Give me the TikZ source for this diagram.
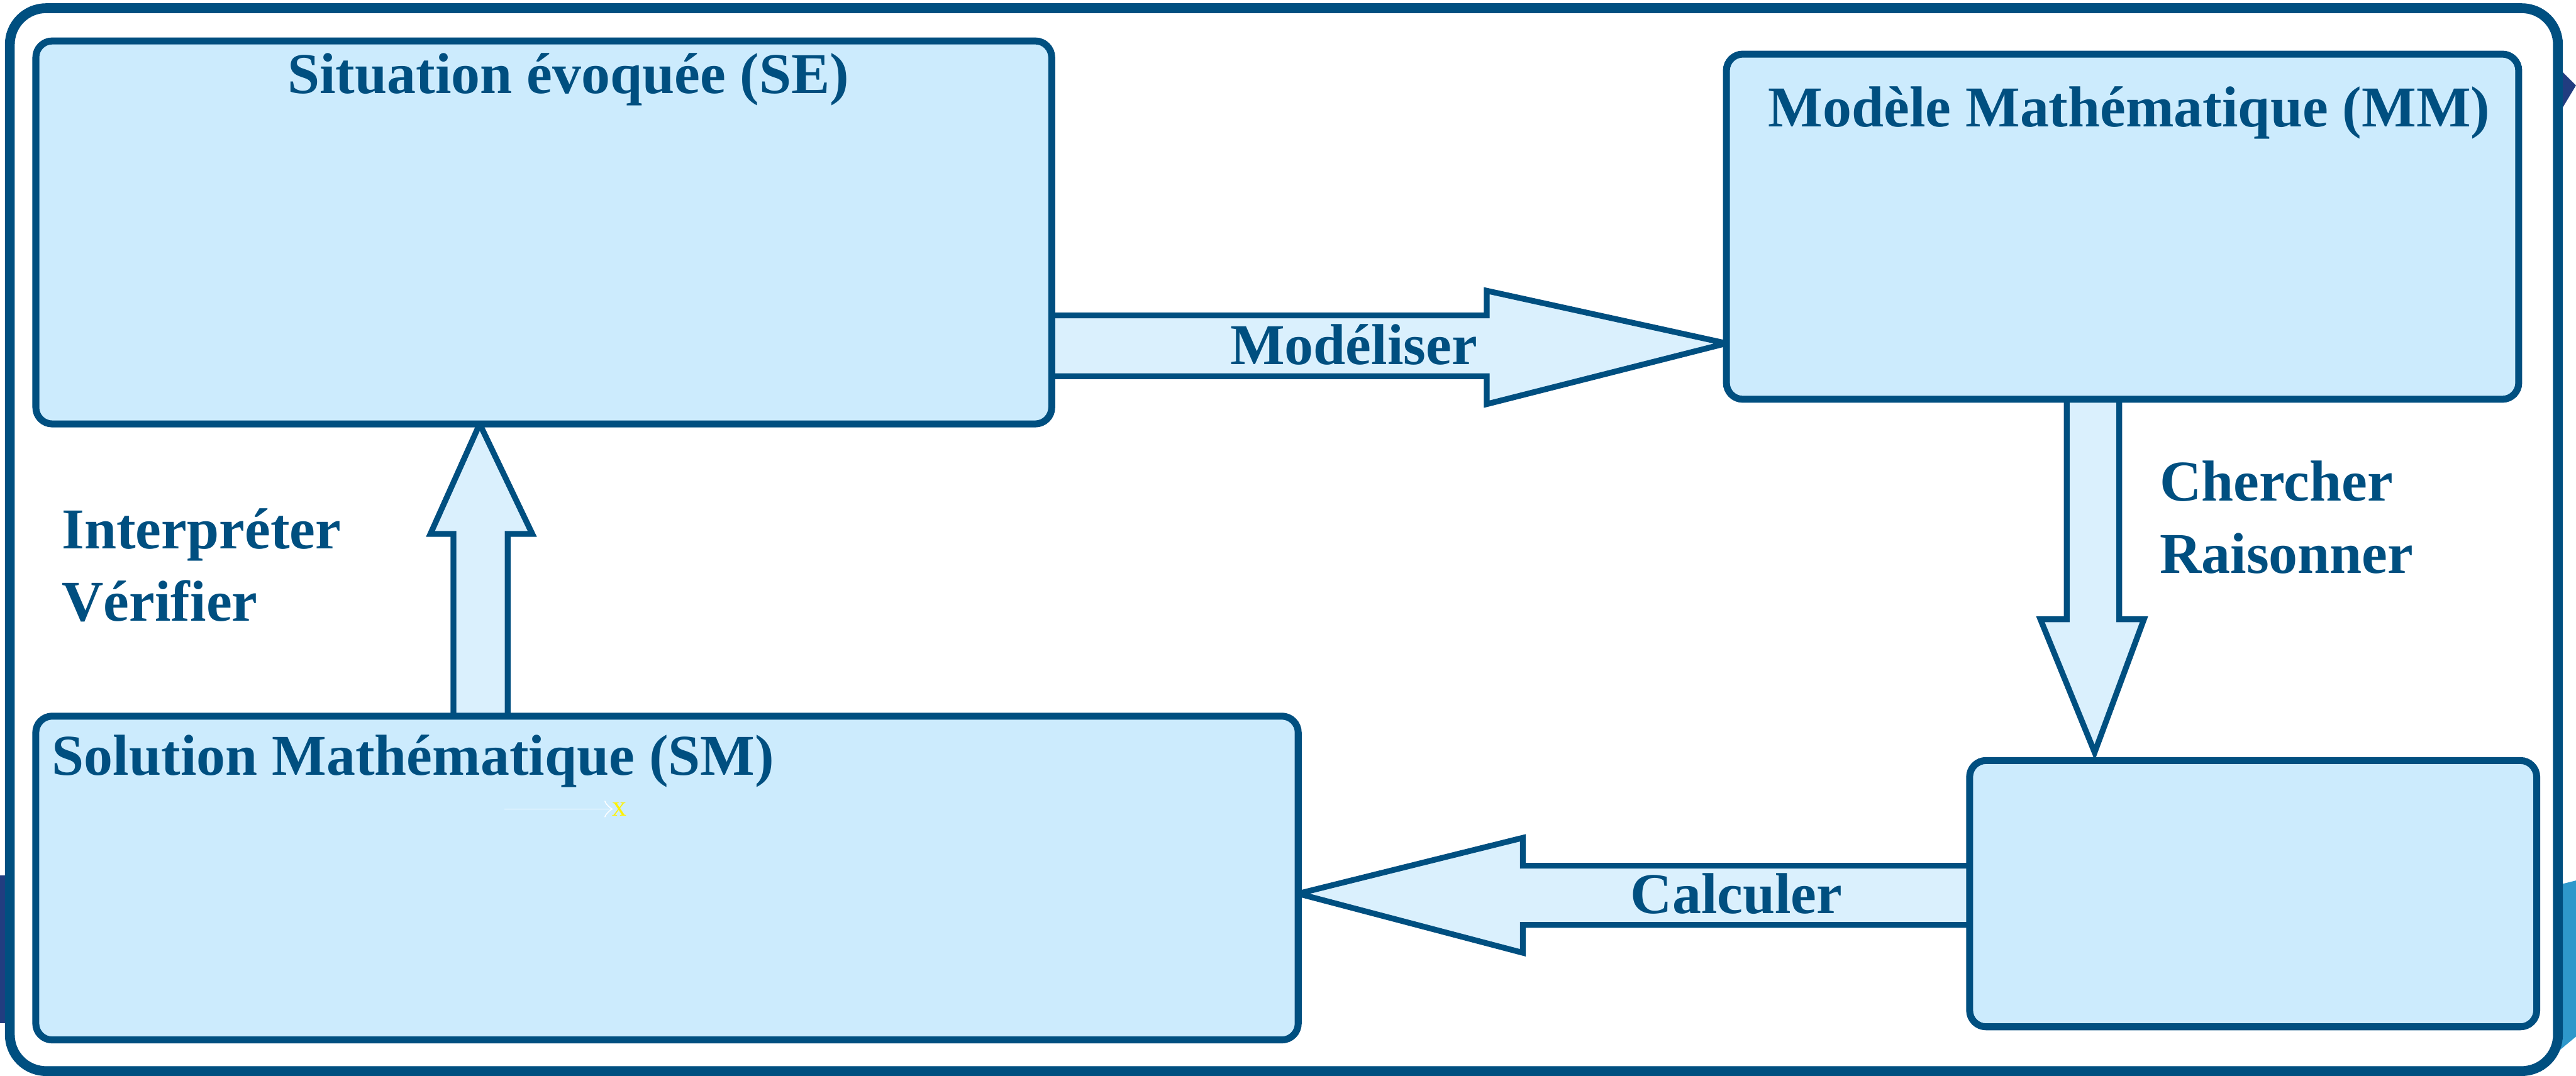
\documentclass[tikz,border=0pt]{standalone}
\usepackage{fontspec}
\setmainfont{Liberation Serif}
\usetikzlibrary{positioning,backgrounds,calc}
\definecolor{bordure}{RGB}{0,79,128}
\definecolor{fondboite}{RGB}{204,235,253}
\definecolor{fondfleche}{RGB}{218,240,253}
\definecolor{marine}{RGB}{33,61,128}
\definecolor{turquoise}{RGB}{46,152,203}
\tikzset{boite/.style={draw=bordure, fill=fondboite, line width=1.2pt, rounded corners=0.1cm, inner sep=0pt, outer sep=0pt},
  fleche/.style={draw=bordure, fill=fondfleche, line width=1pt, line join=miter},
  titre/.style={text=bordure, font=\bfseries\fontsize{10}{12.5}\selectfont, inner sep=0pt},
  cadre/.style={draw=bordure, fill=white, line width=1.7pt, rounded corners=0.22cm}}

\begin{document}
\begin{tikzpicture}[x=0.01cm,y=-0.01cm]
  \useasboundingbox (0,0) rectangle (1568,655);
  % les quatre boites
  \node[boite, minimum width=6.18cm, minimum height=2.33cm] (se) at (331,141.5) {};
  \node[boite, minimum width=4.82cm, minimum height=2.10cm] (mm) at (1292,138) {};
  \node[boite, minimum width=7.68cm, minimum height=1.97cm] (sm) at (406,534.5) {};
  \node[boite, minimum width=3.45cm, minimum height=1.62cm] (res) at (1371.5,544) {};
  \node[titre, anchor=base] (tse) at (346,57) {Situation évoquée (SE)};
  \node[titre, anchor=base] (tmm) at (1296,77) {Modèle Mathématique (MM)};
  \node[titre, anchor=base west] (tsm) at (31,472) {Solution Mathématique (SM)};
  \draw[white, very thin, ->] (307,492.5) -- (373,492.5);
  \node[text=yellow, font=\tiny, inner sep=0pt] (croix) at (377,492.5) {x};
  % fleches
  \begin{scope}[on background layer]
   \fill[marine] (0,533) rectangle (4,623);
   \fill[turquoise] (1556,539) -- (1568,536) -- (1568,631) -- (1556,641) -- cycle;
   \fill[marine] (1556,40) -- (1568,52) -- (1556,72) -- cycle;
   \draw[cadre] (6,5) rectangle (1557,652);
   \draw[fleche] (se.east |- 0,192) -- (905,192) -- (905,177) -- (mm.west |- 0,209)
     -- (905,246) -- (905,229) -- (se.east |- 0,229) -- cycle;
   \draw[fleche] (1258,0 |- mm.south) -- (1258,377) -- (1242,377) -- (1275,458)
     -- (1305,377) -- (1290,377) -- (1290,0 |- mm.south) -- cycle;
   \draw[fleche] (res.west |- 0,527) -- (927,527) -- (927,510) -- (sm.east |- 0,544)
     -- (927,580) -- (927,563) -- (res.west |- 0,563) -- cycle;
   \draw[fleche] (276,0 |- sm.north) -- (276,325) -- (262,325) -- (292,0 |- se.south)
     -- (324,325) -- (309,325) -- (309,0 |- sm.north) -- cycle;
  \end{scope}
  \node[titre, anchor=base] (lmod) at (824,222) {Modéliser};
  \node[titre, anchor=west, align=left] (lcher) at (1314,315) {Chercher\\Raisonner};
  \node[titre] (lcalc) at (1057,544) {Calculer};
  \node[titre, anchor=west, align=left] (linter) at (37,344) {Interpréter\\Vérifier};
\end{tikzpicture}
\end{document}
